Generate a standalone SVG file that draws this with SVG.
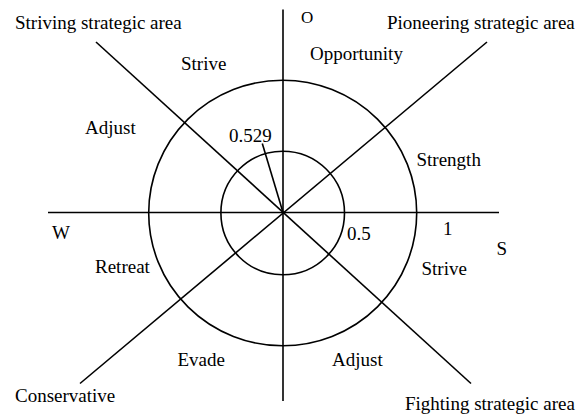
<svg xmlns="http://www.w3.org/2000/svg" width="587" height="418" viewBox="0 0 587 418">
<style>
.ln{stroke:#000;stroke-width:1.6;fill:none}
text{font-family:"Liberation Serif","Times New Roman",serif;font-size:19px;fill:#000}
</style>
<rect width="587" height="418" fill="#fff"/>
<g id="circles">
<ellipse id="outer" class="ln" cx="282.7" cy="213" rx="134" ry="132.8"/>
<circle id="inner" class="ln" cx="282.7" cy="213" r="61.8"/>
</g>
<g id="axes">
<line class="ln" x1="48" y1="212.5" x2="499" y2="212.5"/>
<line class="ln" x1="283" y1="9.5" x2="283" y2="401"/>
<line class="ln" x1="96" y1="42" x2="471" y2="383.5"/>
<line class="ln" x1="487" y1="42" x2="80" y2="383.5"/>
<line class="ln" x1="283" y1="212.5" x2="262.3" y2="143.5"/>
</g>
<g id="labels">
<text x="15" y="29">Striving strategic area</text>
<text x="387" y="29">Pioneering strategic area</text>
<text x="301" y="23" style="font-size:17px">O</text>
<text x="310" y="60">Opportunity</text>
<text x="181" y="70">Strive</text>
<text x="85" y="134">Adjust</text>
<text x="229" y="141.5">0.529</text>
<text x="416.5" y="166">Strength</text>
<text x="52" y="238.5">W</text>
<text x="347" y="240">0.5</text>
<text x="443" y="235">1</text>
<text x="496.5" y="254.5">S</text>
<text x="95" y="272.5">Retreat</text>
<text x="421.5" y="275">Strive</text>
<text x="177.5" y="365.5">Evade</text>
<text x="332" y="365.5">Adjust</text>
<text x="15" y="401.5">Conservative</text>
<text x="405" y="410">Fighting strategic area</text>
</g>
</svg>
